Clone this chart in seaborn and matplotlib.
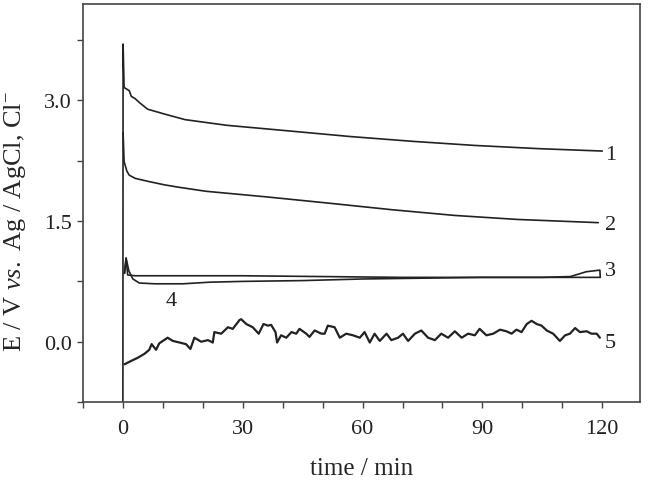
#!/usr/bin/env python3
"""Open-circuit potential vs time for five electrodes (curves 1-5)."""
import matplotlib
matplotlib.use("Agg")
import matplotlib.pyplot as plt
import pandas as pd
import seaborn as sns
from matplotlib.ticker import FormatStrFormatter, MultipleLocator

# curve 1: top trace, big start-up spike
t1 = [0.0, 0.05, 0.3, 1.6, 2.1, 3.1, 4.2, 6.2, 10.4, 15.6, 26, 41.6, 57, 72.7, 88, 104, 120]
e1 = [-0.75, 3.70, 3.16, 3.12, 3.05, 3.02, 2.97, 2.89, 2.83, 2.76, 2.69, 2.62, 2.55, 2.49, 2.44, 2.40, 2.37]

# curve 2
t2 = [0.05, 0.3, 1.0, 1.6, 3.1, 6.6, 10.4, 14, 20.8, 36, 52, 67.5, 83, 98.7, 119]
e2 = [2.60, 2.24, 2.12, 2.07, 2.03, 1.99, 1.95, 1.92, 1.87, 1.80, 1.72, 1.64, 1.57, 1.52, 1.48]

# curve 3: flat trace
t3 = [0.4, 0.8, 1.2, 3, 10, 30, 50, 70, 90, 110, 119.5]
e3 = [0.85, 1.04, 0.83, 0.82, 0.82, 0.82, 0.81, 0.80, 0.80, 0.80, 0.80]

# curve 4: dips then creeps up, box at the end
t4 = [0.4, 0.8, 1.5, 2.5, 4.1, 8, 15, 21.7, 30, 45, 60, 75, 90, 105, 112, 114, 116, 119.4, 119.5]
e4 = [0.85, 1.04, 0.88, 0.78, 0.73, 0.72, 0.72, 0.74, 0.75, 0.76, 0.78, 0.79, 0.80, 0.80, 0.81, 0.84, 0.87, 0.89, 0.80]

# curve 5: noisy bottom trace
t5 = [0.4, 2.0, 3.7, 5.4, 6.6, 7.2, 8.3, 9.1, 11.2, 12.5, 14.2, 15.8, 16.9, 17.9, 19.6,
      21.3, 22.5, 22.9, 24.6, 26.3, 27.5, 29.2, 29.6, 30.9, 32.5, 34.0, 35.2, 36.3, 37.1,
      38.2, 38.6, 39.6, 40.9, 42.2, 43.4, 44.2, 45.9, 46.7, 48.0, 49.7, 50.5, 51.3, 53.0,
      54.3, 55.9, 57.6, 59.3, 60.5, 61.8, 63.0, 64.3, 66.0, 67.2, 68.9, 70.1, 71.4, 73.1,
      74.7, 76.4, 78.1, 79.7, 81.4, 83.1, 84.8, 86.4, 88.1, 89.3, 91.0, 92.7, 94.4, 96.0,
      97.3, 98.5, 99.8, 101.1, 102.3, 103.6, 104.8, 106.1, 107.7, 109.4, 110.7, 111.9,
      113.2, 114.4, 116.1, 117.3, 118.6, 119.4]
e5 = [-0.28, -0.24, -0.20, -0.15, -0.10, -0.03, -0.10, -0.02, 0.05, 0.01, -0.01, -0.03,
      -0.09, 0.05, 0.00, 0.02, -0.01, 0.12, 0.10, 0.18, 0.16, 0.27, 0.28, 0.22, 0.18, 0.10,
      0.22, 0.20, 0.21, 0.12, -0.01, 0.08, 0.05, 0.12, 0.10, 0.16, 0.10, 0.06, 0.14, 0.10,
      0.10, 0.20, 0.18, 0.05, 0.10, 0.08, 0.05, 0.12, -0.01, 0.10, 0.01, 0.10, 0.02, 0.05,
      0.10, 0.01, 0.10, 0.14, 0.05, 0.02, 0.10, 0.05, 0.13, 0.05, 0.10, 0.08, 0.16, 0.08,
      0.10, 0.15, 0.13, 0.10, 0.15, 0.12, 0.22, 0.26, 0.22, 0.20, 0.14, 0.10, 0.01, 0.08,
      0.10, 0.17, 0.12, 0.13, 0.10, 0.10, 0.05]

curve_names = ["1", "2", "3", "4", "5"]
# where each curve's number is written (time, potential)
label_t = [122, 122, 122, 12.2, 122]
label_e = [2.33, 1.46, 0.89, 0.51, -0.01]

LINE = "#222222"


def build_frame() -> pd.DataFrame:
    parts = []
    for name, t, e in zip(curve_names, [t1, t2, t3, t4, t5], [e1, e2, e3, e4, e5]):
        parts.append(pd.DataFrame({"t": t, "E": e, "curve": name}))
    return pd.concat(parts, ignore_index=True)


def main() -> None:
    sns.set_theme(style="ticks")
    plt.rcParams.update(
        {
            "font.family": ["Liberation Serif", "DejaVu Serif"],
            "mathtext.fontset": "custom",
            "mathtext.rm": "Liberation Serif",
            "mathtext.it": "Liberation Serif:italic",
            "axes.edgecolor": "#444444",
            "axes.linewidth": 1.2,
            "xtick.color": "#444444",
            "ytick.color": "#444444",
            "xtick.labelcolor": "#222222",
            "ytick.labelcolor": "#222222",
        }
    )

    df = build_frame()
    fig = plt.figure(figsize=(6.48, 4.81), dpi=100)
    ax = fig.add_axes([0.128, 0.162, 0.860, 0.828])

    # one call per curve so that the vertical jumps keep their drawing order
    for name in curve_names:
        sub = df[df["curve"] == name]
        sns.lineplot(data=sub, x="t", y="E", estimator=None, sort=False, color=LINE,
                     linewidth=1.6 if name == "5" else 1.2, ax=ax)

    for name, lt, le in zip(curve_names, label_t, label_e):
        ax.text(lt, le, name, ha="center", va="center", fontsize=16, color="#222222")

    ax.set_xlim(-10, 129.5)
    ax.set_ylim(-0.75, 4.2)
    ax.xaxis.set_major_locator(MultipleLocator(30))
    ax.xaxis.set_minor_locator(MultipleLocator(10))
    ax.yaxis.set_major_locator(MultipleLocator(1.5))
    ax.yaxis.set_minor_locator(MultipleLocator(0.75))
    ax.yaxis.set_major_formatter(FormatStrFormatter("%.1f"))
    ax.tick_params(which="both", direction="out", length=4, width=1.0,
                   top=False, right=False, labelsize=16)
    ax.tick_params(axis="x", pad=8)
    ax.tick_params(axis="y", pad=4)

    ax.set_xlabel("time / min", fontsize=18, labelpad=14)
    ax.set_ylabel(r"E / V $\mathit{vs.}$ Ag / AgCl, Cl$^{-}$", fontsize=19)
    ax.yaxis.set_label_coords(-0.098, 0.455)

    fig.savefig("out.png", dpi=100)
    plt.close(fig)


if __name__ == "__main__":
    main()
